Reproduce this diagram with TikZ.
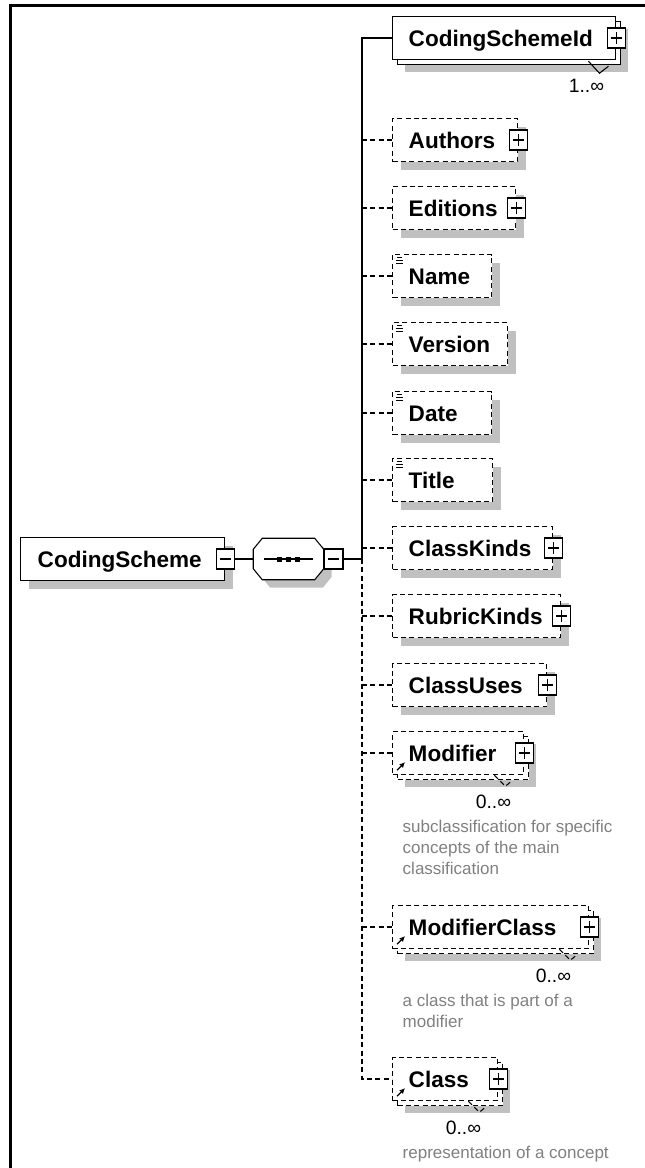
\documentclass[tikz,border=0pt]{standalone}
\usepackage{fontspec}
\setmainfont{Liberation Sans}
\usetikzlibrary{shadows,arrows.meta}

\definecolor{shadowgray}{RGB}{192,192,192}
\definecolor{notegray}{RGB}{128,128,128}

\begin{document}
\begin{tikzpicture}[x=0.75pt, y=-0.75pt, line width=1.1pt,
  elem/.style={draw, fill=white, anchor=west, minimum height=32.25pt,
    inner xsep=12pt, inner ysep=0pt, text height=12pt, text depth=0pt,
    align=left, text width=#1, font=\fontsize{16.9}{19}\selectfont\bfseries},
  opt/.style={dash pattern=on 3.75pt off 2.5pt},
  shadowed/.style={general shadow={fill=shadowgray, draw=none,
    shadow xshift=6pt, shadow yshift=-6pt}},
  stack/.style={general shadow={fill=shadowgray, draw=none,
      shadow xshift=9pt, shadow yshift=-9pt},
    general shadow={fill=white, draw, #1, shadow xshift=3.75pt, shadow yshift=-3.75pt}},
  expander/.style={draw, fill=white, solid, line width=0.9pt, minimum width=14pt,
    minimum height=15pt, inner sep=0pt,
    path picture={\draw[line width=0.9pt]
      ([yshift=-3pt]path picture bounding box.north) -- ([yshift=3pt]path picture bounding box.south)
      ([xshift=3pt]path picture bounding box.west) -- ([xshift=-3pt]path picture bounding box.east);}},
  collapser/.style={draw, fill=white, solid, line width=0.9pt, minimum width=14pt,
    minimum height=15pt, inner sep=0pt,
    path picture={\draw[line width=0.9pt]
      ([xshift=3pt]path picture bounding box.west) -- ([xshift=-3pt]path picture bounding box.east);}},
  mult/.style={inner sep=0pt, font=\fontsize{14.5}{16}\selectfont},
  note/.style={anchor=north west, align=left, inner sep=0pt, text=notegray,
    font=\fontsize{12.75}{15.75}\selectfont}]

  \useasboundingbox (0,0) rectangle (644,1168);

  % Frame
  \draw[line width=2pt] (10.5,1180) |- (660,5.5);

  % Root element and sequence compositor
  \node[elem=127.5pt, inner xsep=12.75pt, shadowed] (root) at (20,559) {CodingScheme};
  \node[collapser] (rootx) at (root.east) {};
  \node[minimum width=51.75pt, minimum height=30pt, inner sep=0pt] (seq) at (288.5,559) {};
  \path[shadowed, draw, fill=white, line width=0.8pt]
    ([shift={(9,0)}]seq.north west) -- ([shift={(-9,0)}]seq.north east)
    -- ([shift={(0,11)}]seq.north east) -- ([shift={(0,-11)}]seq.south east)
    -- ([shift={(-9,0)}]seq.south east) -- ([shift={(9,0)}]seq.south west)
    -- ([shift={(0,-11)}]seq.south west) -- ([shift={(0,11)}]seq.north west) -- cycle;
  \draw[line width=0.9pt] ([shift={(-25,0)}]seq.center) -- ([shift={(24,0)}]seq.center);
  \foreach \d in {-9,0,9}
    \fill ([shift={(\d,0)}]seq.center) +(-2.5,-2.5) rectangle +(2.5,2.5);
  \node[collapser, anchor=west] (seqx) at (seq.east) {};
  \coordinate (trunk) at (362,559);

  % Children
  \node[elem=143.25pt, stack=solid] (csid) at (392,38) {CodingSchemeId};
  \node[elem=69.75pt, opt, shadowed] (authors) at (392,140) {Authors};
  \node[elem=68.25pt, opt, shadowed] (editions) at (392,208) {Editions};
  \node[elem=50.25pt, opt, shadowed] (name) at (392,276) {Name};
  \node[elem=62.25pt, opt, shadowed] (version) at (392,344) {Version};
  \node[elem=50.25pt, opt, shadowed] (date) at (392,413) {Date};
  \node[elem=51pt, opt, shadowed] (title) at (392,480) {Title};
  \node[elem=96pt, opt, shadowed] (classkinds) at (392,548) {ClassKinds};
  \node[elem=102pt, opt, shadowed] (rubrickinds) at (392,616) {RubricKinds};
  \node[elem=91.5pt, opt, shadowed] (classuses) at (392,685) {ClassUses};
  \node[elem=74.25pt, opt, stack=opt] (modifier) at (392,753) {Modifier};
  \node[elem=123pt, opt, stack=opt] (modifierclass) at (392,927) {ModifierClass};
  \node[elem=54.75pt, opt, stack=opt] (class) at (392,1079) {Class};

  % Expand boxes
  \foreach \n in {csid,authors,editions,classkinds,rubrickinds,classuses,modifier,modifierclass,class}
    \node[expander] (\n-x) at (\n.east) {};

  % Simple type icons
  \foreach \n in {name,version,date,title} {
    \draw[line width=0.75pt] ([shift={(5,4)}]\n.north west) -- ([shift={(10,4)}]\n.north west);
    \draw[line width=0.75pt] ([shift={(4,7)}]\n.north west) -- ([shift={(11,7)}]\n.north west);
    \draw[line width=0.75pt] ([shift={(4,10)}]\n.north west) -- ([shift={(11,10)}]\n.north west);
  }

  % Reference arrows
  \foreach \n in {modifier,modifierclass,class}
    \draw[-{Latex[length=4pt,width=4pt]}, line width=1pt]
      ([shift={(5,-5)}]\n.south west) -- ([shift={(13,-13)}]\n.south west);

  % Connectors
  \draw (rootx.east) -- (seq.west);
  \draw (seqx.east) -- (trunk);
  \draw (trunk) |- (csid.west);
  \draw[opt] (trunk) |- (class.west);
  \foreach \n in {authors,editions,name,version,date,title,classkinds,rubrickinds,classuses,modifier,modifierclass}
    \draw[opt] (trunk |- \n.west) -- (\n.west);

  % Occurrence notches and labels
  \draw[line width=0.8pt] ([shift={(-28,1)}]csid.south east) -- ++(11,12) -- ++(9,-7);
  \foreach \n in {modifier,modifierclass,class}
    \draw[line width=0.8pt, opt] ([shift={(-30,0)}]\n.south east) -- ++(11,11) -- ++(7,-6);
  \node[mult] (csid-m) at ([shift={(-30,26)}]csid.south east) {1..∞};
  \node[mult] (modifier-m) at ([shift={(-31,27)}]modifier.south east) {0..∞};
  \node[mult] (modifierclass-m) at ([shift={(-36,27)}]modifierclass.south east) {0..∞};
  \node[mult] (class-m) at ([shift={(-35,27)}]class.south east) {0..∞};

  % Annotations
  \node[note] (modifier-n) at ([shift={(10,44)}]modifier.south west)
    {subclassification for specific\\concepts of the main\\classification};
  \node[note] (modifierclass-n) at ([shift={(10,44)}]modifierclass.south west)
    {a class that is part of a\\modifier};
  \node[note] (class-n) at ([shift={(10,44)}]class.south west) {representation of a concept};
\end{tikzpicture}
\end{document}
